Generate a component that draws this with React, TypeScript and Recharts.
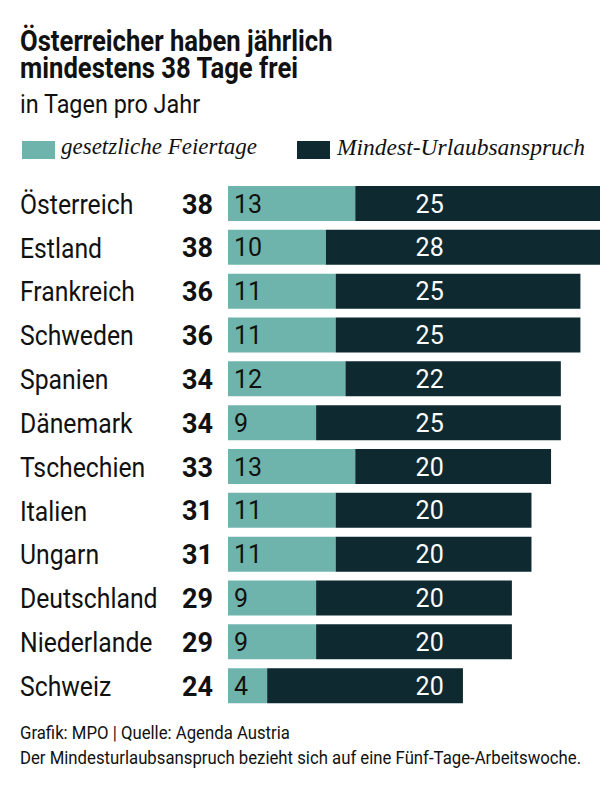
import React from 'react';
import { BarChart, Bar, XAxis, YAxis, Legend, LabelList } from 'recharts';

const countries = [
    'Österreich', 'Estland', 'Frankreich', 'Schweden', 'Spanien', 'Dänemark',
    'Tschechien', 'Italien', 'Ungarn', 'Deutschland', 'Niederlande', 'Schweiz',
];
const feiertage = [13, 10, 11, 11, 12, 9, 13, 11, 11, 9, 9, 4];
const urlaub = [25, 28, 25, 25, 22, 25, 20, 20, 20, 20, 20, 20];

const TEAL = '#6fb4ac';
const DARK = '#0e2a30';
const TEXT = '#111111';
const SANS = 'Roboto, sans-serif';
const SERIF = '"Liberation Serif", "DejaVu Serif", serif';

const data = countries.map((name, i) => ({
    name,
    feiertage: feiertage[i],
    urlaub: urlaub[i],
    total: feiertage[i] + urlaub[i],
}));

// the original uses a condensed face, so Roboto gets squeezed a bit
const CountryTick = (props: any) => {
    const { y, payload, index } = props;
    return (
        <g>
            <text transform={`translate(20, ${y}) scale(0.9, 1)`} dy="0.36em" fontSize={27.5} fill={TEXT} fontFamily={SANS}>
                {payload.value}
            </text>
            <text x={213} y={y} dy="0.36em" fontSize={27} fontWeight="bold" fill={TEXT} textAnchor="end" fontFamily={SANS}>
                {data[index].total}
            </text>
        </g>
    );
};

const TealLabel = (props: any) => {
    const { x, y, height, value } = props;
    return (
        <text x={x + 6} y={y + height / 2} dy="0.36em" fontSize={25} fill={TEXT} fontFamily={SANS}>
            {value}
        </text>
    );
};

const DarkLabel = (props: any) => {
    const { x, y, width, height, value, index } = props;
    // labels of the dark segments sit in one column, at about 20.6 days from the origin
    const perDay = width / value;
    const origin = x - data[index].feiertage * perDay;
    return (
        <text x={origin + 20.6 * perDay} y={y + height / 2} dy="0.36em" fontSize={25} fill="#ffffff" textAnchor="middle" fontFamily={SANS}>
            {value}
        </text>
    );
};

const LegendContent = () => (
    <div style={{ position: 'relative', height: 24 }}>
        <div style={{ position: 'absolute', left: 22, top: 5, width: 33, height: 18, background: TEAL }} />
        <span style={{ position: 'absolute', left: 61, top: -2, fontFamily: SERIF, fontStyle: 'italic', fontSize: 23, color: TEXT, whiteSpace: 'nowrap' }}>
            gesetzliche Feiertage
        </span>
        <div style={{ position: 'absolute', left: 297, top: 5, width: 33, height: 18, background: DARK }} />
        <span style={{ position: 'absolute', left: 337, top: -2, fontFamily: SERIF, fontStyle: 'italic', fontSize: 23.5, color: TEXT, whiteSpace: 'nowrap' }}>
            Mindest-Urlaubsanspruch
        </span>
    </div>
);

const titleLine: React.CSSProperties = {
    position: 'absolute',
    left: 20,
    fontSize: 30,
    fontWeight: 'bold',
    lineHeight: '27px',
    whiteSpace: 'nowrap',
    transform: 'scaleX(0.855)',
    transformOrigin: 'left top',
};

export default function App() {
    return (
        <div style={{ position: 'absolute', left: 0, top: 0, width: 616, height: 785, background: '#fff', fontFamily: SANS, color: TEXT }}>
            <div style={{ ...titleLine, top: 27 }}>Österreicher haben jährlich</div>
            <div style={{ ...titleLine, top: 54 }}>mindestens 38 Tage frei</div>
            <div style={{ position: 'absolute', left: 20, top: 89, fontSize: 26, whiteSpace: 'nowrap', transform: 'scaleX(0.9)', transformOrigin: 'left top' }}>
                in Tagen pro Jahr
            </div>
            <BarChart
                width={616}
                height={785}
                data={data}
                layout="vertical"
                margin={{ top: 158, right: 16, bottom: 77, left: 0 }}
                barSize={35}
            >
                <XAxis type="number" domain={[0, 38]} hide />
                <YAxis type="category" dataKey="name" width={228} axisLine={false} tickLine={false} tick={<CountryTick />} />
                <Legend verticalAlign="top" height={24} wrapperStyle={{ top: 136, left: 0, width: 616 }} content={<LegendContent />} />
                <Bar dataKey="feiertage" stackId="a" fill={TEAL} isAnimationActive={false}>
                    <LabelList dataKey="feiertage" content={<TealLabel />} />
                </Bar>
                <Bar dataKey="urlaub" stackId="a" fill={DARK} isAnimationActive={false}>
                    <LabelList dataKey="urlaub" content={<DarkLabel />} />
                </Bar>
            </BarChart>
            <div style={{ position: 'absolute', left: 20, top: 720, fontSize: 18, lineHeight: '25px', whiteSpace: 'nowrap', transform: 'scaleX(0.93)', transformOrigin: 'left top' }}>
                Grafik: MPO | Quelle: Agenda Austria<br />
                Der Mindesturlaubsanspruch bezieht sich auf eine Fünf-Tage-Arbeitswoche.
            </div>
        </div>
    );
}
